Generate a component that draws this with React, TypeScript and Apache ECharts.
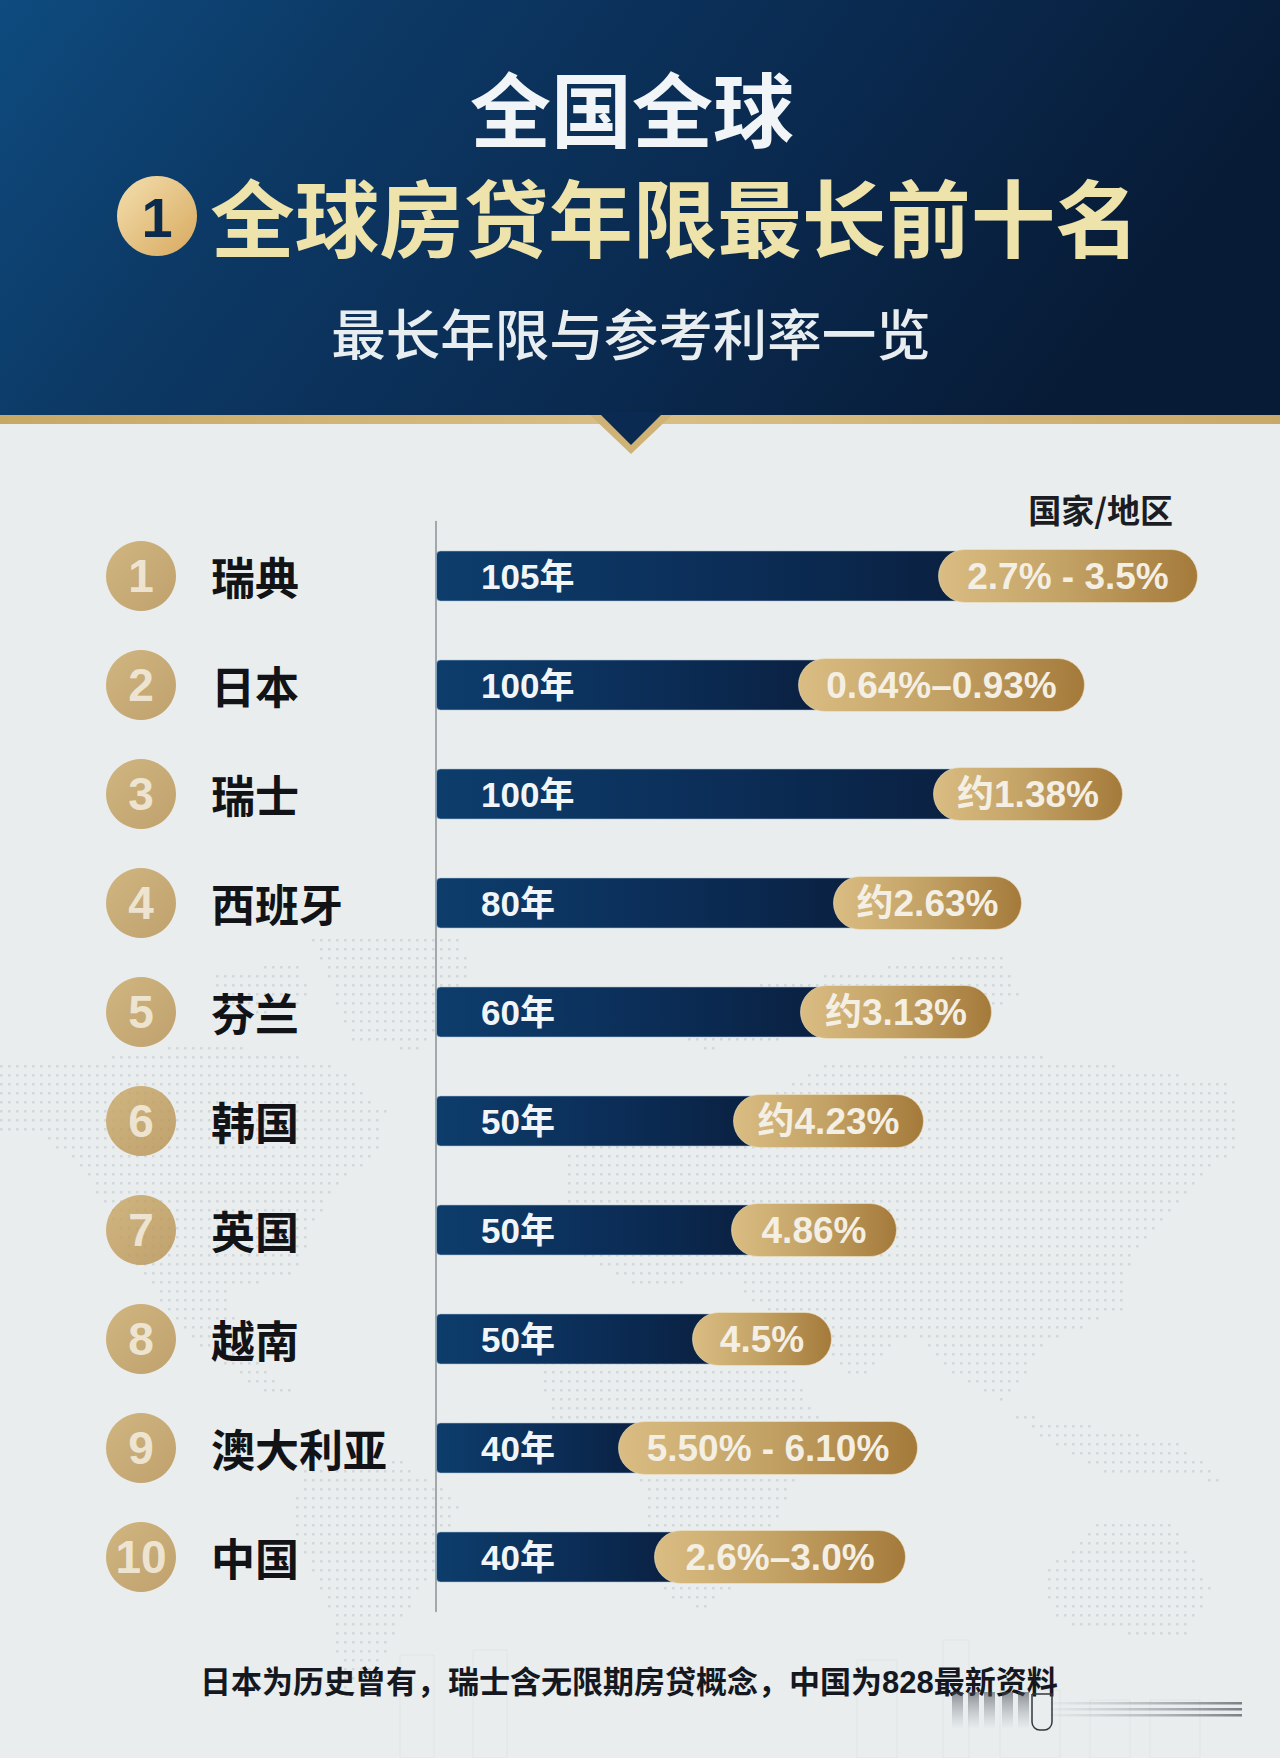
import React, { useEffect, useRef } from "react";
import * as echarts from "echarts";

const countries = ["瑞典", "日本", "瑞士", "西班牙", "芬兰", "韩国", "英国", "越南", "澳大利亚", "中国"];
const ranks = [1, 2, 3, 4, 5, 6, 7, 8, 9, 10];
const years = [105, 100, 100, 80, 60, 50, 50, 50, 40, 40];
const rates = ["2.7% - 3.5%", "0.64%–0.93%", "约1.38%", "约2.63%", "约3.13%", "约4.23%", "4.86%", "4.5%", "5.50% - 6.10%", "2.6%–3.0%"];
// drawn lengths of the two bar parts (the source bars are not to scale with the years)
const navyLengths = [502, 362, 497, 397, 364, 297, 295, 256, 182, 218];
const rateLengths = [260, 287, 190, 189, 192, 191, 166, 140, 300, 252];
const footnote = "日本为历史曾有\uFF0C瑞士含无限期房贷概念\uFF0C中国为828最新资料";

const SANS = '"Liberation Sans", "Noto Sans CJK SC", sans-serif';
const CJK = '"Noto Sans CJK SC", sans-serif';

// faint dotted world map behind the chart
const landShapes: number[][][] = [
  [[310, 935], [460, 930], [470, 975], [420, 1050], [350, 1040]],
  [[210, 975], [300, 960], [310, 1000], [240, 1020]],
  [[0, 1065], [90, 1060], [200, 1040], [330, 1060], [385, 1110], [380, 1150], [330, 1190], [310, 1230], [300, 1270], [230, 1290], [235, 1340], [290, 1390], [260, 1390], [190, 1340], [130, 1260], [90, 1180], [40, 1130], [0, 1130]],
  [[300, 1470], [400, 1460], [460, 1500], [440, 1560], [400, 1620], [370, 1680], [340, 1690], [330, 1610], [290, 1520]],
  [[560, 1150], [700, 1120], [760, 1180], [740, 1270], [640, 1290], [570, 1250]],
  [[700, 1130], [830, 1060], [1000, 1050], [1230, 1080], [1240, 1140], [1180, 1200], [1130, 1260], [1120, 1310], [1050, 1340], [1000, 1400], [950, 1370], [910, 1330], [860, 1380], [800, 1340], [740, 1290], [710, 1220]],
  [[640, 1000], [1000, 950], [1020, 1000], [700, 1050]],
  [[530, 1350], [640, 1340], [700, 1350], [790, 1370], [820, 1420], [790, 1490], [750, 1570], [700, 1610], [660, 1590], [640, 1480], [560, 1450]],
  [[1045, 1570], [1100, 1520], [1170, 1520], [1210, 1590], [1180, 1640], [1110, 1630], [1050, 1620]],
  [[1000, 1410], [1180, 1440], [1220, 1480], [1100, 1470]],
];

function inside(px: number, py: number, poly: number[][]) {
  let hit = false;
  for (let i = 0, j = poly.length - 1; i < poly.length; j = i++) {
    const [xi, yi] = poly[i];
    const [xj, yj] = poly[j];
    if (yi > py !== yj > py && px < ((xj - xi) * (py - yi)) / (yj - yi) + xi) hit = !hit;
  }
  return hit;
}

function mapPath() {
  let d = "";
  for (let y = 930; y < 1700; y += 9) {
    for (let x = 0; x < 1280; x += 8) {
      if (landShapes.some((p) => inside(x, y, p))) d += `M${x} ${y}h2.6v2.6h-2.6z`;
    }
  }
  return d;
}

echarts.graphic.registerShape("dotmap", echarts.graphic.extendPath(mapPath(), {}));

const hGrad = (stops: [number, string][]) => ({
  type: "linear", x: 0, y: 0, x2: 1, y2: 0,
  colorStops: stops.map(([offset, color]) => ({ offset, color })),
});
const vGrad = (stops: [number, string][]) => ({
  type: "linear", x: 0, y: 0, x2: 0, y2: 1,
  colorStops: stops.map(([offset, color]) => ({ offset, color })),
});

const skyline = [
  [400, 1655, 34, 103], [473, 1650, 34, 108], [857, 1660, 40, 98], [943, 1640, 26, 118],
  [1000, 1690, 60, 68], [1090, 1700, 40, 58], [1150, 1700, 50, 58],
];
const smearBars = [952, 968, 984, 1002, 1018];

function buildOption() {
  const graphicElements: any[] = [
    { type: "dotmap", x: 0, y: 0, silent: true, z: 0, style: { fill: "rgba(118,135,150,0.2)" } },
    ...skyline.map(([x, y, width, height]) => ({
      type: "rect", silent: true, z: 0, shape: { x, y, width, height },
      style: { fill: "none", stroke: "rgba(120,135,150,0.07)", lineWidth: 1 },
    })),
    ...smearBars.map((x) => ({
      type: "rect", silent: true, z: 7, shape: { x, y: 1692, width: 11, height: 36 },
      style: { fill: vGrad([[0, "rgba(60,65,75,0.55)"], [1, "rgba(120,130,140,0.02)"]]) },
    })),
    ...[1702, 1708, 1714].map((y) => ({
      type: "rect", silent: true, z: 1, shape: { x: 1050, y, width: 192, height: 2.5 },
      style: { fill: hGrad([[0, "rgba(120,130,140,0.05)"], [1, "rgba(50,55,65,0.6)"]]) },
    })),
    {
      type: "rect", silent: true, z: 7, shape: { x: 1032, y: 1694, width: 20, height: 36, r: [0, 0, 8, 8] },
      style: { fill: "none", stroke: "#33373e", lineWidth: 1.5 },
    },
    {
      type: "rect", silent: true, z: 2, shape: { x: 0, y: 0, width: 1280, height: 416 },
      style: {
        fill: { type: "linear", x: 0, y: 0, x2: 1, y2: 0.25, colorStops: [
          { offset: 0, color: "#0e4b7e" }, { offset: 0.3, color: "#0c3864" },
          { offset: 0.65, color: "#0a2a50" }, { offset: 1, color: "#071b36" },
        ] },
      },
    },
    {
      type: "rect", silent: true, z: 3, shape: { x: 0, y: 415, width: 1280, height: 9 },
      style: { fill: hGrad([[0, "#c7a764"], [0.5, "#d9bf86"], [1, "#c9a968"]]) },
    },
    { type: "polygon", silent: true, z: 4, shape: { points: [[590, 415], [672, 415], [631, 454]] }, style: { fill: "#cfb276" } },
    { type: "polygon", silent: true, z: 5, shape: { points: [[598, 412], [664, 412], [631, 445]] }, style: { fill: "#0a2a52" } },
    {
      type: "text", z: 6, silent: true,
      style: { text: "全国全球", x: 632, y: 105, align: "center", verticalAlign: "middle", fill: "#f2f5f8", fontSize: 81, fontWeight: "bold", fontFamily: CJK, shadowColor: "rgba(0,0,0,.45)", shadowBlur: 4, shadowOffsetY: 3 },
    },
    {
      type: "circle", z: 6, silent: true, shape: { cx: 157, cy: 216, r: 40 },
      style: { fill: { type: "linear", x: 0, y: 0, x2: 1, y2: 1, colorStops: [{ offset: 0, color: "#f3dfae" }, { offset: 1, color: "#d8a95e" }] } },
    },
    {
      type: "text", z: 7, silent: true,
      style: { text: "1", x: 157, y: 217, align: "center", verticalAlign: "middle", fill: "#0c2a4c", fontSize: 56, fontWeight: "bold", fontFamily: SANS },
    },
    {
      type: "text", z: 6, silent: true,
      style: { text: "全球房贷年限最长前十名", x: 675, y: 214, align: "center", verticalAlign: "middle", fill: "#eee3ab", fontSize: 84.5, fontWeight: "bold", fontFamily: CJK, shadowColor: "rgba(0,0,0,.45)", shadowBlur: 4, shadowOffsetY: 3 },
    },
    {
      type: "text", z: 6, silent: true,
      style: { text: "最长年限与参考利率一览", x: 631, y: 331, align: "center", verticalAlign: "middle", fill: "#e8edf0", fontSize: 54.5, fontWeight: 500, fontFamily: CJK },
    },
    {
      type: "text", z: 6, silent: true,
      style: { text: "国家/地区", x: 1173, y: 509, align: "right", verticalAlign: "middle", fill: "#1b1d22", fontSize: 33, fontWeight: "bold", fontFamily: CJK },
    },
    {
      type: "text", z: 6, silent: true,
      style: { text: footnote, x: 200, y: 1682, align: "left", verticalAlign: "middle", fill: "#15181f", fontSize: 31, fontWeight: "bold", fontFamily: SANS },
    },
  ];

  return {
    animation: false,
    backgroundColor: "#e9edee",
    graphic: { elements: graphicElements },
    grid: [
      { left: 436, width: 844, top: 521.5, height: 1090 },
      { left: 41, width: 200, top: 521.5, height: 1090 },
    ],
    xAxis: [
      { type: "value", gridIndex: 0, min: 0, max: 844, show: false },
      { type: "category", gridIndex: 1, data: ["rank"], show: false },
    ],
    yAxis: [
      {
        type: "category", gridIndex: 0, inverse: true, data: countries,
        axisTick: { show: false },
        axisLine: { lineStyle: { color: "#8b9096", width: 1.5 } },
        axisLabel: { interval: 0, align: "left", margin: 225, fontSize: 44, fontWeight: "bold", color: "#111317", fontFamily: CJK, padding: [0, 0, 5, 0] },
      },
      { type: "category", gridIndex: 0, inverse: true, data: countries, show: false },
      { type: "category", gridIndex: 1, inverse: true, data: countries, show: false },
    ],
    series: [
      {
        name: "最长年限", type: "bar", xAxisIndex: 0, yAxisIndex: 0, barWidth: 51, z: 3,
        data: navyLengths.map((v) => v + 27),
        itemStyle: {
          borderRadius: [4, 0, 0, 4],
          borderColor: "rgba(170,195,215,0.55)", borderWidth: 1,
          color: hGrad([[0, "#0d3d6c"], [0.6, "#0b2c55"], [1, "#0a2040"]]),
        },
        label: {
          show: true, position: [45, "50%"], verticalAlign: "middle", align: "left",
          formatter: (p: any) => `${years[p.dataIndex]}年`,
          color: "#f2f5f7", fontSize: 35, fontWeight: "bold", fontFamily: SANS,
        },
      },
      {
        name: "留白", type: "bar", stack: "rate", xAxisIndex: 0, yAxisIndex: 1, barWidth: 54, z: 4,
        data: navyLengths, silent: true, itemStyle: { color: "transparent" },
      },
      {
        name: "参考利率", type: "bar", stack: "rate", xAxisIndex: 0, yAxisIndex: 1, barWidth: 54, z: 4,
        data: rateLengths,
        itemStyle: {
          borderRadius: 27,
          borderColor: "rgba(240,228,200,0.6)", borderWidth: 1,
          color: hGrad([[0, "#dabd83"], [0.5, "#c2a164"], [1, "#a47a3a"]]),
        },
        label: {
          show: true, position: "inside",
          formatter: (p: any) => rates[p.dataIndex],
          color: "#f4efe4", fontSize: 37, fontWeight: "bold", fontFamily: SANS,
        },
      },
      {
        name: "排名", type: "scatter", xAxisIndex: 1, yAxisIndex: 2, symbol: "circle", symbolSize: 70, z: 3,
        data: countries.map((c) => ["rank", c]),
        itemStyle: { color: { type: "linear", x: 0, y: 0, x2: 1, y2: 1, colorStops: [{ offset: 0, color: "#cba865" }, { offset: 1, color: "#b48e4c" }] } },
        label: {
          show: true, position: "inside",
          formatter: (p: any) => String(ranks[p.dataIndex]),
          color: "#f8f4ea", fontSize: 46, fontWeight: "bold", fontFamily: SANS,
        },
      },
    ],
  };
}

export default function App() {
  const ref = useRef<HTMLDivElement>(null);
  useEffect(() => {
    document.body.style.margin = "0";
    const chart = echarts.init(ref.current!, undefined, { renderer: "svg" });
    chart.setOption(buildOption() as any);
    return () => chart.dispose();
  }, []);
  return <div ref={ref} style={{ width: 1280, height: 1758 }} />;
}
